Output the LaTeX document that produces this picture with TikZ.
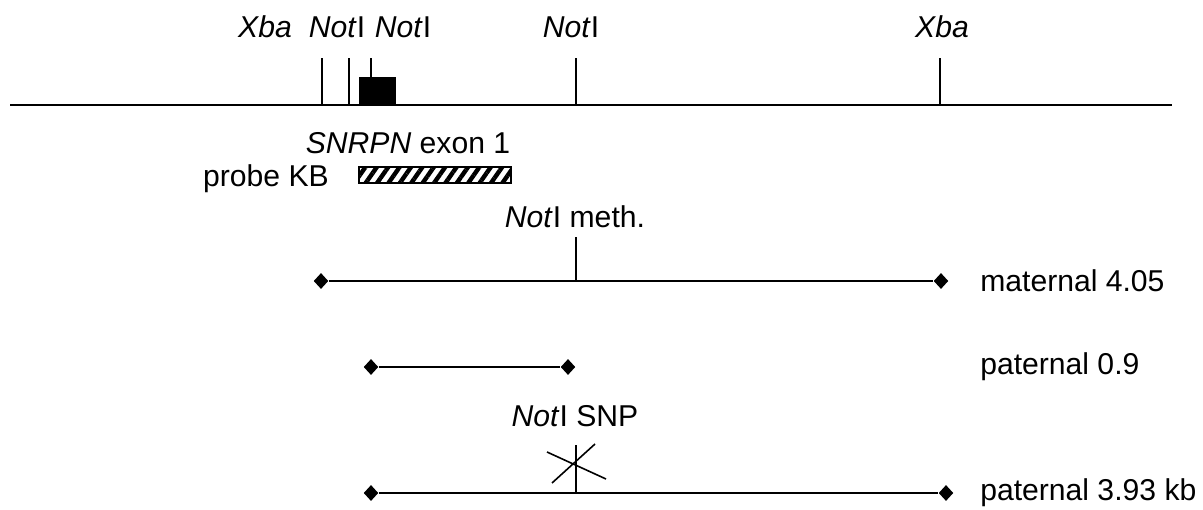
\documentclass[tikz,border=0pt]{standalone}
\usepackage{fontspec}
\setmainfont{Liberation Sans}
\usetikzlibrary{shapes.geometric,patterns.meta}
\begin{document}
\begin{tikzpicture}[x=0.75pt,y=-0.75pt,
  lbl/.style={font=\fontsize{22.6}{26}\selectfont, inner sep=0pt},
  tick/.style={line width=1.2pt},
  seg/.style={line width=1.9pt},
  dia/.style={diamond, fill=black, inner sep=0pt, minimum width=11pt, minimum height=12pt}]
\useasboundingbox (0,0) rectangle (1203,510);
% main line
\coordinate (L) at (10,105);
\coordinate (R) at (1172,105);
\draw[seg] (L) -- (R);
% ticks
\coordinate (x1b) at (322,105); \coordinate (x1t) at (322,58);
\coordinate (n1b) at (349,105); \coordinate (n1t) at (349,58);
\coordinate (n2b) at (371,77);  \coordinate (n2t) at (371,58);
\coordinate (n3b) at (576,105); \coordinate (n3t) at (576,58);
\coordinate (x2b) at (940,105); \coordinate (x2t) at (940,58);
\draw[tick] (x1b) -- (x1t);
\draw[tick] (n1b) -- (n1t);
\draw[tick] (n2b) -- (n2t);
\draw[tick] (n3b) -- (n3t);
\draw[tick] (x2b) -- (x2t);
% exon box
\fill (359,77) rectangle (396,105);
% labels top
\node[lbl] (tXa) at (265,27) {\itshape Xba};
\node[lbl] (tN1) at (337,27) {\textit{Not}I};
\node[lbl] (tN2) at (403,27) {\textit{Not}I};
\node[lbl] (tN3) at (571,27) {\textit{Not}I};
\node[lbl] (tXb) at (942,27) {\itshape Xba};
\node[lbl] (exon) at (408,143) {\textit{SNRPN} exon 1};
\node[lbl] (probe) at (266,179) {probe KB};
\begin{scope}
\clip (359,167) rectangle (511,183);
\fill[pattern={Lines[angle=55,distance=7pt,line width=3.3pt]}] (359,167) rectangle (511,183);
\end{scope}
\draw[line width=1.3pt] (359,167) rectangle (511,183);
% maternal
\node[lbl] (meth) at (575,217) {\textit{Not}I meth.};
\node[dia] (m1) at (321,281) {};
\node[dia] (m2) at (941,281) {};
\draw[seg] (m1) -- (m2);
\coordinate (mt) at (576,237); \coordinate (mb) at (576,281);
\draw[tick] (mt) -- (mb);
\node[lbl, anchor=west] (matl) at (980,281) {maternal 4.05};
% paternal 0.9
\node[dia] (p1) at (371,367) {};
\node[dia] (p2) at (568,367) {};
\draw[seg] (p1) -- (p2);
\node[lbl, anchor=west] (p09) at (980,367) {paternal 0.9};
% paternal 3.93
\node[lbl] (snp) at (575,416) {\textit{Not}I SNP};
\node[dia] (q1) at (371,493) {};
\node[dia] (q2) at (946,493) {};
\draw[seg] (q1) -- (q2);
\coordinate (st) at (576,445); \coordinate (sb) at (576,493);
\draw[tick] (st) -- (sb);
\coordinate (c1a) at (547,452); \coordinate (c1b) at (606,479);
\coordinate (c2a) at (552,483); \coordinate (c2b) at (595,444);
\draw[tick] (c1a) -- (c1b);
\draw[tick] (c2a) -- (c2b);
\node[lbl, anchor=west] (p393) at (980,493) {paternal 3.93 kb};
\end{tikzpicture}
\end{document}
